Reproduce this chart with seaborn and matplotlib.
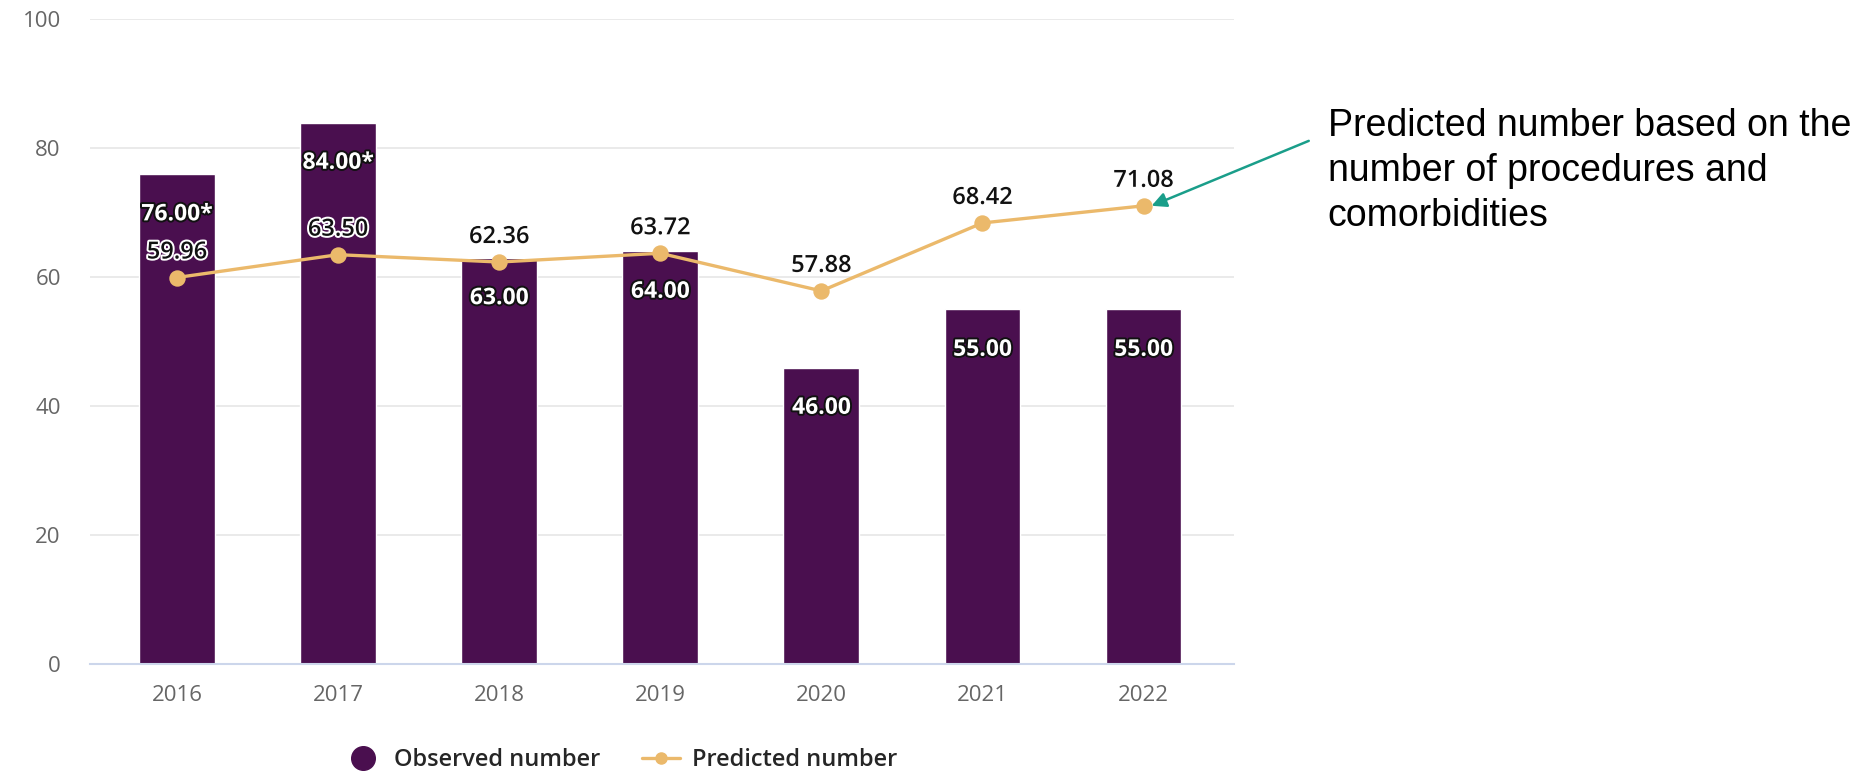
import numpy as np
import pandas as pd
import matplotlib
matplotlib.use("Agg")
import matplotlib.pyplot as plt
import matplotlib.patheffects as pe
from matplotlib.lines import Line2D
import seaborn as sns

years = ["2016", "2017", "2018", "2019", "2020", "2021", "2022"]
observed = [76, 84, 63, 64, 46, 55, 55]
observed_labels = ["76.00*", "84.00*", "63.00", "64.00", "46.00", "55.00", "55.00"]
predicted = [59.96, 63.50, 62.36, 63.72, 57.88, 68.42, 71.08]
predicted_labels = ["59.96", "63.50", "62.36", "63.72", "57.88", "68.42", "71.08"]
y_ticks = [0, 20, 40, 60, 80, 100]
legend_labels = ["Observed number", "Predicted number"]
annotation_text = "Predicted number based on the\nnumber of procedures and\ncomorbidities"

BAR = "#4a0f4f"
LINE = "#ebb96b"
ARROW = "#1a9e8a"

sns.set_theme(style="white")
plt.rcParams["font.family"] = ["Open Sans", "DejaVu Sans"]

df = pd.DataFrame({"year": years, "observed": observed, "predicted": predicted})

fig = plt.figure(figsize=(18.75, 7.74), dpi=100)
ax = fig.add_axes([0.048, 0.142, 0.610, 0.833])

sns.barplot(data=df, x="year", y="observed", order=years, color=BAR,
            saturation=1, width=0.47, ax=ax, zorder=2)
sns.pointplot(data=df, x="year", y="predicted", order=years, color=LINE,
              markers="o", markersize=10, linewidth=2.4, ax=ax, zorder=3)

ax.set_ylim(0, 100)
ax.set_xlim(-0.54, 6.56)
ax.set_yticks(y_ticks)
ax.set_xlabel("")
ax.set_ylabel("")
ax.grid(axis="y", color="#e6e6e6", linewidth=1.2, zorder=0)
ax.set_axisbelow(True)
for s in ["top", "right", "left"]:
    ax.spines[s].set_visible(False)
ax.spines["bottom"].set_color("#ccd6eb")
ax.spines["bottom"].set_linewidth(1.5)
ax.tick_params(axis="x", colors="#666666", labelsize=16, length=10,
               width=1.2, color="#ccd6eb", pad=5)
ax.tick_params(axis="y", colors="#666666", labelsize=16, length=0, pad=21)
for lbl in ax.get_xticklabels() + ax.get_yticklabels():
    lbl.set_color("#666666")

# bar labels
for i, (v, t) in enumerate(zip(observed, observed_labels)):
    ax.annotate(t, xy=(i, v), xytext=(0, -29), textcoords="offset points",
                ha="center", va="center", fontsize=16.5, fontweight="bold",
                color="white", zorder=5,
                path_effects=[pe.withStroke(linewidth=2.8, foreground="#111111")])

# line labels
for i, (v, t) in enumerate(zip(predicted, predicted_labels)):
    ax.annotate(t, xy=(i, v), xytext=(0, 18), textcoords="offset points",
                ha="center", va="center", fontsize=17, fontweight="semibold",
                color="#111111", zorder=5,
                path_effects=[pe.withStroke(linewidth=2.8, foreground="white")])

# legend
handles = [
    Line2D([], [], marker="o", linestyle="none", markersize=17, color=BAR),
    Line2D([], [], marker="o", linestyle="-", linewidth=2.4, markersize=8, color=LINE),
]
fig.legend(handles, legend_labels, loc="center", bbox_to_anchor=(0.331, 0.018),
           ncol=2, frameon=False, handlelength=1.6,
           columnspacing=1.8, handletextpad=0.5,
           prop={"family": ["Open Sans", "DejaVu Sans"], "weight": "semibold", "size": 17})

# annotation
ax.annotate("", xy=(6.05, predicted[6]), xycoords="data",
            xytext=(0.698, 0.818), textcoords="figure fraction",
            arrowprops=dict(arrowstyle="-|>", color=ARROW, lw=1.8,
                            mutation_scale=22, shrinkA=0, shrinkB=0),
            annotation_clip=False)
fig.text(0.708, 0.779, annotation_text, fontsize=27, color="black",
         family=["Liberation Sans", "DejaVu Sans"], ha="left", va="center",
         linespacing=1.31)

fig.savefig("out.png", dpi=100)
